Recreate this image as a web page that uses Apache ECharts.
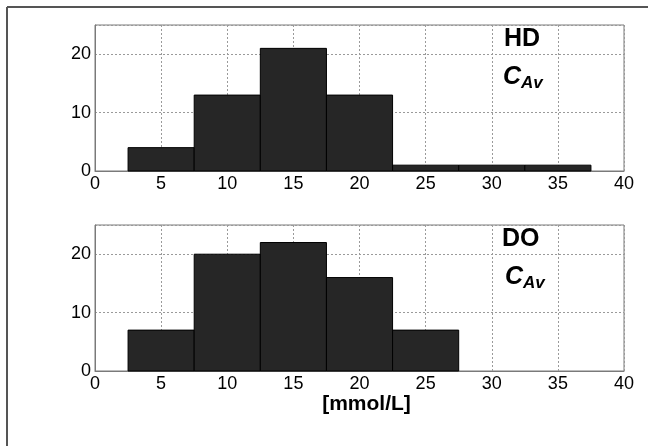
<!DOCTYPE html>
<html>
<head>
<meta charset="utf-8">
<script src="https://cdn.jsdelivr.net/npm/echarts@6/dist/echarts.min.js"></script>
<style>html,body{margin:0;padding:0;background:#fff;}#c{width:648px;height:446px;}</style>
</head>
<body>
<div id="c"></div>
<script>
const binStarts = [2.5, 7.5, 12.5, 17.5, 22.5, 27.5, 32.5];
const binWidth = 5;
const hdCounts = [4, 13, 21, 13, 1, 1, 1];
const doCounts = [7, 20, 22, 16, 7, 0, 0];
const xTicks = [0, 5, 10, 15, 20, 25, 30, 35, 40];
const yTicks = [0, 10, 20];

const chart = echarts.init(document.getElementById('c'), null, {renderer: 'canvas'});
const font = 'Liberation Sans, Arial, sans-serif';

function histData(counts) {
  return counts.map((c, i) => [binStarts[i], binStarts[i] + binWidth, c]);
}
function renderItem(params, api) {
  const p0 = api.coord([api.value(0), api.value(2)]);
  const p1 = api.coord([api.value(1), 0]);
  if (api.value(2) <= 0) return null;
  return {
    type: 'rect',
    shape: {x: p0[0], y: p0[1], width: p1[0] - p0[0], height: p1[1] - p0[1]},
    style: {fill: '#262626', stroke: '#000', lineWidth: 1}
  };
}
function xAxis(idx, name) {
  return {
    type: 'value', gridIndex: idx, min: 0, max: 40, interval: 5,
    name: name, nameLocation: 'middle', nameGap: 17,
    nameTextStyle: {fontFamily: font, fontSize: 21, fontWeight: 'bold', color: '#000', padding: [0, 0, 0, 14]},
    axisLine: {show: true, lineStyle: {color: '#7a7a7a', width: 1}},
    axisTick: {show: false},
    axisLabel: {fontFamily: font, fontSize: 18, color: '#000', margin: 4},
    splitLine: {show: true, lineStyle: {color: '#9a9a9a', type: [2, 2], width: 1}}
  };
}
function yAxis(idx) {
  return {
    type: 'value', gridIndex: idx, min: 0, max: 25, interval: 10,
    axisLine: {show: true, lineStyle: {color: '#7a7a7a', width: 1}},
    axisTick: {show: false},
    axisLabel: {fontFamily: font, fontSize: 18, color: '#000', margin: 4, showMaxLabel: false},
    splitLine: {show: true, lineStyle: {color: '#9a9a9a', type: [2, 2], width: 1}}
  };
}
const labelRich = {
  big: {fontFamily: font, fontSize: 25, lineHeight: 25, fontWeight: 'bold', color: '#000'},
  c: {fontFamily: font, fontSize: 25, lineHeight: 25, fontWeight: 'bold', fontStyle: 'italic', color: '#000'},
  sub: {fontFamily: font, fontSize: 17, lineHeight: 17, fontWeight: 'bold', fontStyle: 'italic', color: '#000', padding: [13, 0, 0, 0]}
};

chart.setOption({
  animation: false,
  backgroundColor: '#fff',
  grid: [
    {left: 95, top: 25, width: 529, height: 146, show: true, borderColor: '#7a7a7a', borderWidth: 1, backgroundColor: 'transparent'},
    {left: 95, top: 225, width: 529, height: 146, show: true, borderColor: '#7a7a7a', borderWidth: 1, backgroundColor: 'transparent'}
  ],
  xAxis: [xAxis(0, ''), xAxis(1, '[mmol/L]')],
  yAxis: [yAxis(0), yAxis(1)],
  series: [
    {type: 'custom', xAxisIndex: 0, yAxisIndex: 0, data: histData(hdCounts), renderItem: renderItem, encode: {x: [0, 1], y: 2}},
    {type: 'custom', xAxisIndex: 1, yAxisIndex: 1, data: histData(doCounts), renderItem: renderItem, encode: {x: [0, 1], y: 2}}
  ],
  graphic: [
    {type: 'line', shape: {x1: 7, y1: 7, x2: 648, y2: 7}, style: {stroke: '#555', lineWidth: 2}},
    {type: 'line', shape: {x1: 7, y1: 7, x2: 7, y2: 446}, style: {stroke: '#555', lineWidth: 2}},
    {type: 'text', left: 504, top: 27, style: {text: '{big|HD}', rich: labelRich}},
    {type: 'text', left: 503, top: 62, style: {text: '{c|C}{sub|Av}', rich: labelRich}},
    {type: 'text', left: 502, top: 227, style: {text: '{big|DO}', rich: labelRich}},
    {type: 'text', left: 505, top: 262, style: {text: '{c|C}{sub|Av}', rich: labelRich}}
  ]
});
</script>
</body>
</html>
